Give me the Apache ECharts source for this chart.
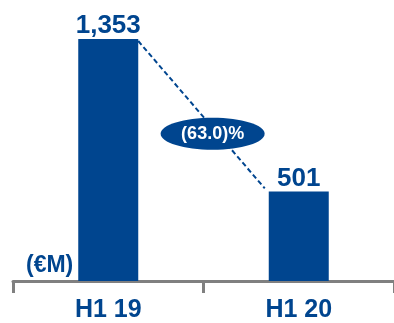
<!DOCTYPE html>
<html>
<head>
<meta charset="utf-8">
<script src="https://cdn.jsdelivr.net/npm/echarts@6/dist/echarts.min.js"></script>
<style>
  html, body { margin: 0; padding: 0; background: #fff; }
  #chart { width: 394px; height: 323px; }
</style>
</head>
<body>
<div id="chart"></div>
<script>
// data
const categories = ["H1 19", "H1 20"];
const values = [1353, 501];
const unitLabel = "(€M)";

const blue = "#00458f";
const font = "'Liberation Sans', Arial, sans-serif";

// change between the two halves, shown as (63.0)%
const change = (values[1] - values[0]) / values[0] * 100;
const changeText = change < 0 ? "(" + Math.abs(change).toFixed(1) + ")%" : change.toFixed(1) + "%";

const barWidth = 60;

const chart = echarts.init(document.getElementById("chart"));
chart.setOption({
  animation: false,
  grid: { left: 13, top: 39, width: 386, bottom: 40.5, containLabel: false },
  xAxis: {
    type: "category",
    data: categories,
    axisLine: { lineStyle: { color: "#808080", width: 3 } },
    axisTick: { show: true, length: 12, lineStyle: { color: "#808080", width: 3 } },
    axisLabel: {
      color: blue, fontSize: 25, fontWeight: "bold", fontFamily: font, margin: 17
    }
  },
  yAxis: {
    type: "value",
    min: 0,
    max: 1353,
    show: false
  },
  graphic: [
    {
      type: "text",
      left: 26,
      top: 254,
      style: { text: unitLabel, fill: blue, font: "bold 23px " + font }
    }
  ],
  series: [
    {
      type: "bar",
      data: values,
      barWidth: barWidth,
      itemStyle: { color: blue },
      label: {
        show: true,
        position: "top",
        distance: 0,
        color: blue,
        fontSize: 26,
        fontWeight: "bold",
        fontFamily: font,
        formatter: (p) => p.value.toLocaleString("en-US")
      },
      z: 2
    },
    {
      // dashed connector and the change badge
      type: "custom",
      data: [0],
      z: 3,
      renderItem: function (params, api) {
        const a = api.coord([0, values[0]]);
        const b = api.coord([1, values[1]]);
        const x1 = a[0] + barWidth / 2, y1 = a[1];
        const x2 = b[0] - barWidth / 2, y2 = b[1];
        const t = 0.57;
        const cx = x1 + (x2 - x1) * t;
        const cy = y1 + (y2 - y1) * t + 8;
        return {
          type: "group",
          children: [
            {
              type: "line",
              shape: { x1: x1, y1: y1 + 2, x2: x2 - 4, y2: y2 - 3 },
              style: { stroke: blue, lineWidth: 2, lineDash: [5, 3] }
            },
            {
              type: "ellipse",
              shape: { cx: cx, cy: cy, rx: 52, ry: 16 },
              style: { fill: blue }
            },
            {
              type: "text",
              x: cx,
              y: cy,
              style: {
                text: changeText,
                fill: "#fff",
                font: "bold 18px " + font,
                align: "center",
                verticalAlign: "middle"
              }
            }
          ]
        };
      }
    }
  ]
});
</script>
</body>
</html>
